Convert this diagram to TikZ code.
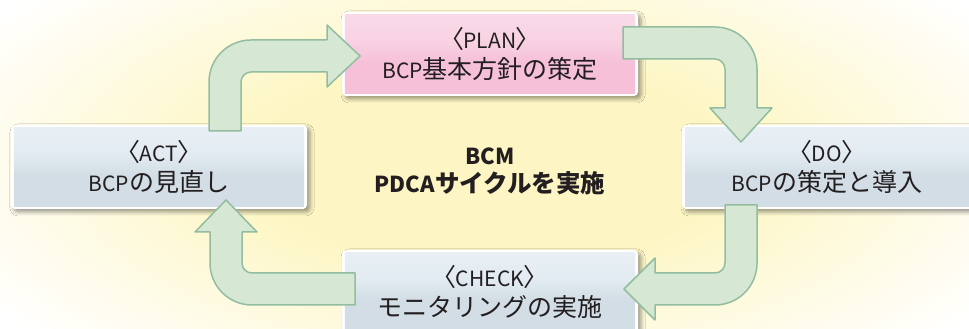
\documentclass[tikz,border=0pt]{standalone}
\usepackage{fontspec}
\setmainfont{Noto Sans CJK JP}
\newfontfamily\jpfont{Noto Sans CJK JP}
\newfontfamily\jppfont[RawFeature=+palt]{Noto Sans CJK JP}
\usetikzlibrary{shadows.blur}

\definecolor{bgyel}{RGB}{253,246,196}
\definecolor{arrfill}{RGB}{214,232,211}
\definecolor{arrline}{RGB}{146,189,160}
\definecolor{pinkT}{RGB}{251,229,240}
\definecolor{pinkM}{RGB}{248,210,227}
\definecolor{pinkB}{RGB}{245,192,216}
\definecolor{blueT}{RGB}{241,247,251}
\definecolor{blueM}{RGB}{226,235,241}
\definecolor{blueB}{RGB}{210,221,229}
\definecolor{txt}{RGB}{35,31,32}

\pgfdeclareverticalshading{pinkshade}{100bp}{color(0bp)=(pinkB); color(45bp)=(pinkB); color(58bp)=(pinkM); color(100bp)=(pinkT)}
\pgfdeclareverticalshading{blueshade}{100bp}{color(0bp)=(blueB); color(45bp)=(blueB); color(58bp)=(blueM); color(100bp)=(blueT)}
\pgfdeclareradialshading{glow}{\pgfpoint{0bp}{0bp}}{color(0bp)=(bgyel); color(10bp)=(bgyel); color(25bp)=(white); color(50bp)=(white)}

\newcommand\lt[1]{{\fontsize{21}{30}\selectfont #1}}
\newcommand\ltb[1]{{\fontsize{22}{28}\selectfont #1}}
\newcommand\ang[1]{{\jppfont 〈}\lt{#1}{\jppfont 〉}}

\begin{document}
\begin{tikzpicture}[x=1pt,y=1pt,
  arrowshape/.style={fill=arrfill, draw=arrline, line width=1.5pt, line join=round},
  boxframe/.style={fill=white, rounded corners=4pt, minimum width=296pt, minimum height=84pt, inner sep=0pt,
    blur shadow={shadow xshift=3pt, shadow yshift=-3pt, shadow blur radius=4pt, shadow opacity=40}},
  boxtext/.style={text=txt, align=center, font=\jpfont\fontsize{25}{30}\selectfont},
  centertext/.style={text=txt, align=center, font=\jpfont\bfseries\fontsize{24.5}{28}\selectfont},
]
\useasboundingbox (0,0) rectangle (969,329);
\clip (0,0) rectangle (969,329);
\fill[white] (0,0) rectangle (969,329);
\shade[shading=glow] (490,165) ellipse [x radius=600, y radius=260];

% boxes
\node[boxframe] (plan) at (490,275) {};
\node[boxframe] (act) at (159,162) {};
\node[boxframe] (do) at (830,162) {};
\node[boxframe] (check) at (490,37) {};
\shade[shading=pinkshade] ([shift={(3,3)}]plan.south west) rectangle ([shift={(-3,-3)}]plan.north east);
\shade[shading=blueshade] ([shift={(3,3)}]act.south west) rectangle ([shift={(-3,-3)}]act.north east);
\shade[shading=blueshade] ([shift={(3,3)}]do.south west) rectangle ([shift={(-3,-3)}]do.north east);
\shade[shading=blueshade] ([shift={(3,3)}]check.south west) rectangle ([shift={(-3,-3)}]check.north east);

\node[boxtext] (plantext) at (plan.center) {\ang{PLAN}\\\lt{BCP}基本方針の策定};
\node[boxtext] (acttext) at (act.center) {\ang{ACT}\\\lt{BCP}の見直し};
\node[boxtext] (dotext) at ([xshift=-3pt]do.center) {\ang{DO}\\\lt{BCP}の策定と導入};
\node[boxtext] (checktext) at (check.center) {\ang{CHECK}\\モニタリングの実施};

\node[centertext] (title) at (490,158) {\ltb{BCM}\\\ltb{PDCA}サイクルを実施};

% arrows
\draw[arrowshape] (209,198) -- (209,247) arc[start angle=180,end angle=90,radius=42]
  -- (327,289) -- (327,304) -- (360,273) -- (327,242) -- (327,257) -- (251,257)
  arc[start angle=90,end angle=180,radius=10] -- (241,198) -- cycle;
\draw[arrowshape] (623,302) -- (715,302) arc[start angle=90,end angle=0,radius=42]
  -- (757,221) -- (772,221) -- (741,187) -- (710,221) -- (725,221) -- (725,260)
  arc[start angle=0,end angle=90,radius=10] -- (623,270) -- cycle;
\draw[arrowshape] (757,124) -- (757,66) arc[start angle=0,end angle=-90,radius=42]
  -- (655,24) -- (655,9) -- (624,40) -- (655,71) -- (655,56) -- (715,56)
  arc[start angle=-90,end angle=0,radius=10] -- (725,124) -- cycle;
\draw[arrowshape] (355,56) -- (252,56) arc[start angle=270,end angle=180,radius=10]
  -- (242,97) -- (257,97) -- (226,129) -- (195,97) -- (210,97) -- (210,66)
  arc[start angle=180,end angle=270,radius=42] -- (355,24) -- cycle;
\end{tikzpicture}
\end{document}
